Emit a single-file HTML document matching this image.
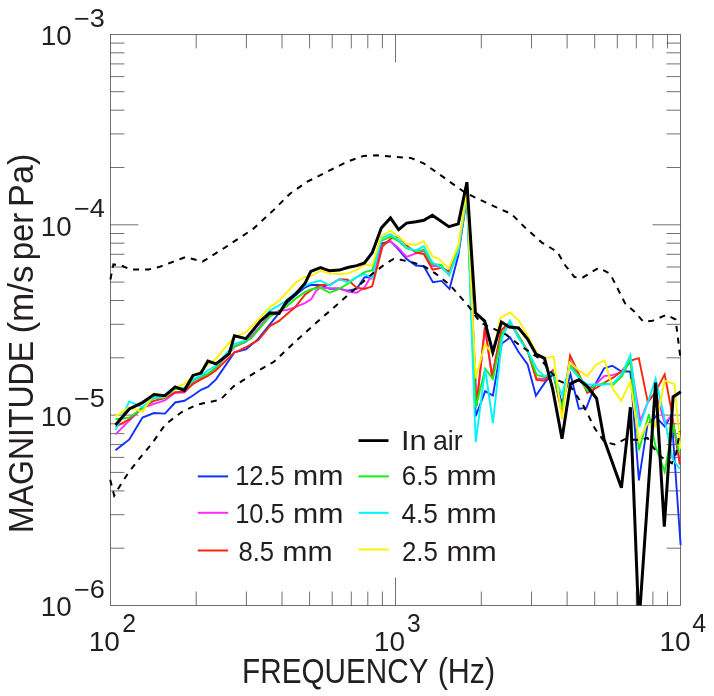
<!DOCTYPE html>
<html><head><meta charset="utf-8"><title>Magnitude vs Frequency</title>
<style>html,body{margin:0;padding:0;background:#fff}svg{display:block}text{font-family:"Liberation Sans",sans-serif;fill:#231f20}</style></head><body>
<svg width="714" height="696" viewBox="0 0 714 696">
<rect width="714" height="696" fill="#fff"/>
<g stroke="#4d4d4d" stroke-width="0.8" fill="none">
<rect x="110.4" y="34.4" width="570.1" height="571.1"/>
<path d="M196.2 34.4v14M196.2 605.5v-14M246.4 34.4v14M246.4 605.5v-14M282.0 34.4v14M282.0 605.5v-14M309.6 34.4v14M309.6 605.5v-14M332.2 34.4v14M332.2 605.5v-14M351.3 34.4v14M351.3 605.5v-14M367.8 34.4v14M367.8 605.5v-14M382.4 34.4v14M382.4 605.5v-14M481.3 34.4v14M481.3 605.5v-14M531.5 34.4v14M531.5 605.5v-14M567.1 34.4v14M567.1 605.5v-14M594.7 34.4v14M594.7 605.5v-14M617.3 34.4v14M617.3 605.5v-14M636.3 34.4v14M636.3 605.5v-14M652.9 34.4v14M652.9 605.5v-14M667.5 34.4v14M667.5 605.5v-14M395.5 34.4v28M395.5 605.5v-28M110.4 548.2h14M680.5 548.2h-14M110.4 514.7h14M680.5 514.7h-14M110.4 490.9h14M680.5 490.9h-14M110.4 472.4h14M680.5 472.4h-14M110.4 457.4h14M680.5 457.4h-14M110.4 444.6h14M680.5 444.6h-14M110.4 433.6h14M680.5 433.6h-14M110.4 423.8h14M680.5 423.8h-14M110.4 357.8h14M680.5 357.8h-14M110.4 324.3h14M680.5 324.3h-14M110.4 300.5h14M680.5 300.5h-14M110.4 282.1h14M680.5 282.1h-14M110.4 267.0h14M680.5 267.0h-14M110.4 254.3h14M680.5 254.3h-14M110.4 243.2h14M680.5 243.2h-14M110.4 233.5h14M680.5 233.5h-14M110.4 167.5h14M680.5 167.5h-14M110.4 133.9h14M680.5 133.9h-14M110.4 110.2h14M680.5 110.2h-14M110.4 91.7h14M680.5 91.7h-14M110.4 76.6h14M680.5 76.6h-14M110.4 63.9h14M680.5 63.9h-14M110.4 52.8h14M680.5 52.8h-14M110.4 43.1h14M680.5 43.1h-14M110.4 415.1h28M680.5 415.1h-28M110.4 224.8h28M680.5 224.8h-28"/>
</g>
<clipPath id="pc"><rect x="108.4" y="34.4" width="574.1" height="571.1"/></clipPath>
<g fill="none" stroke-linejoin="miter" stroke-miterlimit="4" clip-path="url(#pc)">
<polyline points="115.5,450.3 129.3,439.4 142.5,417.6 154.0,413.0 164.9,413.6 175.2,402.5 184.4,400.8 193.0,395.5 201.0,389.8 207.9,386.9 216.0,379.4 234.4,352.4 245.9,349.5 257.2,340.0 269.9,324.4 279.1,312.9 287.1,303.1 295.2,295.6 304.9,287.6 310.8,285.0 320.5,285.0 329.6,288.9 339.3,288.9 347.7,290.8 356.7,288.9 364.5,277.2 372.2,277.2 381.3,243.6 390.5,241.2 398.6,249.7 406.6,259.0 415.9,265.5 423.8,266.2 432.9,282.3 441.6,280.9 449.5,288.8 458.3,255.5 466.9,197.0 475.7,416.2 485.2,391.2 492.9,395.5 501.8,343.5 510.1,337.5 518.6,352.0 527.6,364.5 535.9,395.7 546.2,380.7 553.6,374.2 562.0,403.2 570.5,374.2 578.9,408.8 586.4,407.9 595.7,383.6 604.1,368.2 612.3,365.8 620.7,371.0 630.4,371.7 638.9,480.4 647.5,424.4 655.5,416.7 664.7,426.5 671.5,415.3 680.6,545.0" stroke="#1030ff" stroke-width="1.9"/>
<polyline points="115.5,434.3 129.3,420.5 142.5,407.8 154.0,403.8 164.9,400.3 175.2,392.7 184.4,392.5 193.0,383.0 201.0,378.5 207.9,374.5 216.0,368.0 234.4,347.0 245.9,342.0 257.0,330.0 269.9,314.5 279.1,310.6 287.1,310.0 295.2,307.1 304.9,303.1 311.3,299.1 315.9,291.0 320.5,287.5 329.6,288.2 339.3,288.2 347.7,291.5 356.7,292.8 364.5,287.6 369.7,278.5 372.2,278.5 382.6,244.9 390.5,241.1 398.6,248.3 406.6,256.9 415.9,253.3 423.8,251.1 432.4,266.0 441.0,266.0 448.9,273.0 458.3,251.0 466.9,195.0 471.8,300.0 476.5,405.9 484.9,328.0 492.1,376.6 501.5,330.0 510.0,323.0 518.6,337.0 527.8,352.0 536.5,378.5 544.3,378.9 552.7,371.5 562.0,410.0 569.8,361.0 578.9,376.0 587.3,388.5 595.7,384.5 604.1,376.1 613.5,374.9 620.7,372.3 630.4,360.7 640.3,421.0 647.8,402.1 655.6,392.0 664.7,422.8 669.8,417.6 674.0,428.0 680.0,462.0" stroke="#ff2cff" stroke-width="1.9"/>
<polyline points="115.5,426.8 129.3,419.3 142.5,407.2 154.0,400.9 164.9,398.0 175.2,392.2 184.4,391.6 193.0,384.0 201.0,379.4 207.9,376.0 216.0,370.2 234.4,352.4 239.0,350.7 245.9,347.2 258.4,340.0 269.9,326.1 279.1,320.9 287.1,314.0 295.2,307.1 304.9,294.8 310.8,290.5 320.5,285.0 329.6,285.0 339.3,279.2 347.7,279.8 356.7,287.6 364.5,288.9 372.2,286.3 382.6,246.2 390.5,238.8 398.6,236.8 406.6,245.4 415.9,252.6 423.8,254.0 432.6,269.6 441.3,267.8 448.9,271.3 458.3,250.0 466.9,194.0 471.8,300.0 476.5,405.9 484.9,326.8 492.1,376.6 501.5,330.0 510.0,322.0 518.6,336.0 527.8,351.0 536.5,379.9 544.5,380.8 552.7,370.5 562.0,413.5 570.1,355.5 578.9,374.2 587.3,392.9 595.7,388.2 604.5,382.5 613.2,377.7 622.0,371.0 632.3,360.0 638.8,358.1 647.8,402.1 655.6,391.7 664.7,374.3 671.1,408.5 679.8,464.6" stroke="#ff2408" stroke-width="1.9"/>
<polyline points="115.5,419.3 129.3,417.6 142.5,408.4 154.0,398.0 164.9,397.5 175.2,388.8 184.4,389.8 193.0,380.6 201.0,376.6 207.9,373.7 216.0,367.4 234.4,346.1 245.9,341.5 251.5,338.0 269.9,316.3 279.1,311.7 287.1,306.0 295.2,299.1 304.9,292.2 310.8,289.5 320.5,287.6 329.6,292.8 339.3,288.9 347.7,283.7 356.7,277.2 364.5,272.1 372.2,270.1 381.3,241.0 390.5,236.6 398.6,241.1 406.6,248.3 415.9,251.1 423.8,249.7 432.4,264.1 441.0,264.8 449.2,275.3 458.3,249.7 466.9,195.1 471.0,300.0 475.7,407.6 485.2,368.8 492.9,379.1 502.0,333.8 510.0,322.8 518.6,336.0 527.8,352.0 536.8,375.0 544.5,377.0 552.7,372.3 562.0,407.9 569.5,364.9 578.9,376.1 587.3,391.0 595.7,385.4 604.6,383.2 612.9,385.0 622.0,376.2 630.4,359.4 638.9,450.2 648.9,414.3 655.4,445.9 664.7,471.8 673.3,424.4 679.1,453.1" stroke="#12f012" stroke-width="1.9"/>
<polyline points="115.5,430.2 129.3,401.5 142.5,407.2 154.0,397.5 164.9,397.0 175.2,388.0 184.4,388.0 193.0,379.4 201.0,375.4 207.9,370.2 216.0,365.6 234.4,343.8 245.9,340.3 257.0,326.0 269.9,310.6 279.1,305.4 287.1,300.2 295.2,293.0 304.9,286.0 310.8,283.2 320.5,280.5 329.6,285.6 339.3,279.2 347.7,282.4 356.7,277.2 364.5,274.0 372.2,277.9 381.3,238.4 390.5,234.2 398.6,239.7 406.6,247.6 415.9,250.4 423.8,246.1 432.4,262.6 441.0,267.0 449.2,274.7 458.3,251.1 466.9,193.7 470.5,300.0 475.7,442.1 485.2,368.8 492.9,423.1 502.2,337.5 510.0,320.5 518.6,338.3 527.8,350.9 536.8,368.6 544.3,376.1 552.7,373.3 562.0,394.8 569.5,366.7 578.9,377.9 587.3,384.5 595.7,384.5 604.6,384.6 612.9,383.3 622.0,373.6 630.4,354.9 639.5,427.0 647.6,403.0 655.6,378.8 664.0,416.0 672.6,458.9 679.8,468.9" stroke="#00f4ff" stroke-width="1.9"/>
<polyline points="115.5,416.4 129.3,407.2 142.5,411.8 154.0,393.4 164.9,396.9 175.2,387.5 184.4,384.0 193.0,376.0 201.0,371.4 207.9,364.5 216.0,358.7 229.2,342.6 234.4,336.9 245.9,332.3 249.2,329.0 269.9,307.1 279.1,300.8 287.1,292.2 295.2,283.0 304.9,277.0 310.8,276.0 320.5,270.8 329.6,273.4 339.3,274.0 347.7,273.4 356.7,270.1 364.5,264.3 372.2,265.6 381.3,235.9 390.5,230.8 398.6,236.8 406.6,244.0 415.9,244.7 423.8,241.1 432.4,256.2 438.9,259.0 448.9,268.4 458.3,245.4 466.9,190.8 471.8,300.0 475.7,378.3 485.0,344.3 492.9,354.0 500.3,317.8 509.9,312.4 518.8,320.5 527.8,336.0 536.8,353.6 546.2,358.3 553.6,356.4 562.0,419.1 569.5,362.1 578.9,370.5 587.3,376.1 595.7,364.9 604.6,360.4 612.9,389.1 621.3,400.8 630.4,381.4 638.9,440.2 647.6,423.2 655.4,426.5 664.7,380.7 674.4,384.0 680.5,448.8" stroke="#fff200" stroke-width="1.9"/>
<polyline points="110.4,279.5 113.4,264.4 120.1,265.0 130.2,269.4 148.7,269.4 158.8,267.1 185.7,257.0 202.5,261.7 226.0,246.9 252.9,229.1 273.1,210.6 289.9,193.8 306.7,182.0 326.8,171.9 346.8,161.9 363.6,155.9 377.1,155.2 393.9,156.9 410.7,157.9 424.1,163.6 440.9,175.4 464.5,192.2 477.9,198.9 494.7,206.6 511.5,214.0 525.0,227.5 541.8,242.6 557.2,251.7 565.3,265.5 574.5,277.0 582.5,277.7 598.6,267.8 610.1,273.6 618.2,289.7 625.1,303.4 634.3,311.5 643.4,321.8 652.6,320.7 666.4,314.9 675.6,319.5 680.2,356.3" stroke="#000" stroke-width="2" stroke-dasharray="6 6"/>
<polyline points="110.2,479.7 114.2,495.7 118.8,487.7 128.0,473.3 139.5,458.4 152.1,443.4 165.3,424.4 181.4,412.3 195.5,405.3 203.4,403.2 220.2,399.9 233.6,386.4 256.0,371.9 273.9,361.8 294.1,342.7 316.5,322.6 334.5,306.9 352.4,291.2 369.7,276.0 385.0,264.1 393.6,259.0 400.8,259.8 413.7,262.6 425.2,267.0 435.3,273.4 450.2,285.2 468.9,306.7 480.3,322.5 506.2,334.7 520.0,345.5 540.6,359.3 557.4,379.8 570.5,386.4 583.6,406.0 594.8,428.4 604.1,441.5 614.4,444.5 625.9,438.7 638.9,440.2 647.5,438.0 653.2,447.4 661.8,457.4 671.9,463.2 676.2,453.1 679.8,431.6" stroke="#000" stroke-width="2" stroke-dasharray="6 6"/>
<polyline points="115.5,425.1 129.3,409.0 142.5,402.6 154.0,394.6 164.9,395.7 175.2,386.9 184.4,390.3 193.0,375.4 201.0,373.1 207.9,361.0 216.0,363.9 229.2,353.6 234.4,335.7 245.9,338.6 260.7,320.9 269.9,312.9 279.1,313.4 287.1,300.8 295.2,294.5 304.9,283.6 310.8,271.4 320.5,267.5 329.6,270.8 339.3,270.1 347.7,267.5 356.7,265.6 364.5,263.0 372.2,252.7 381.3,228.1 390.5,217.9 398.6,229.6 406.6,223.1 415.9,221.7 423.8,220.3 432.4,215.2 448.9,226.7 458.3,223.9 466.9,182.2 475.4,312.8 484.7,321.0 492.8,352.2 501.4,322.0 509.3,327.0 518.6,328.0 527.8,339.4 536.0,354.0 544.5,358.4 552.7,389.2 562.0,438.7 570.5,383.6 578.9,379.8 587.3,386.4 596.6,398.5 604.1,439.5 621.4,487.8 630.4,407.2 638.9,625.0 655.6,382.7 664.3,526.7 673.1,396.9 680.8,391.7" stroke="#000" stroke-width="3"/>
</g>
<g fill="none" stroke-width="2">
<path d="M197.8 476.4h30.3" stroke="#1030ff"/>
<path d="M197.8 512.8h30.3" stroke="#ff2cff"/>
<path d="M197.8 550.5h30.3" stroke="#ff2408"/>
<path d="M358.5 476.4h30.3" stroke="#12f012"/>
<path d="M358.5 512.8h30.3" stroke="#00f4ff"/>
<path d="M358.5 549.5h30.3" stroke="#fff200"/>
<path d="M358.5 440.6h30" stroke="#000" stroke-width="2.8"/>
</g>
<text x="401.0" y="449.5" font-size="27.6" textLength="25.7" lengthAdjust="spacingAndGlyphs">In</text>
<text x="433.0" y="449.5" font-size="27.6" textLength="29.7" lengthAdjust="spacingAndGlyphs">air</text>
<text x="235.2" y="484.5" font-size="27.6" textLength="49.6" lengthAdjust="spacingAndGlyphs">12.5</text>
<text x="293.1" y="484.5" font-size="27.6" textLength="50.4" lengthAdjust="spacingAndGlyphs">mm</text>
<text x="235.2" y="522.6" font-size="27.6" textLength="49.6" lengthAdjust="spacingAndGlyphs">10.5</text>
<text x="293.1" y="522.6" font-size="27.6" textLength="50.4" lengthAdjust="spacingAndGlyphs">mm</text>
<text x="238.4" y="560.6" font-size="27.6" textLength="35.7" lengthAdjust="spacingAndGlyphs">8.5</text>
<text x="282.3" y="560.6" font-size="27.6" textLength="50.4" lengthAdjust="spacingAndGlyphs">mm</text>
<text x="401.8" y="484.6" font-size="27.6" textLength="36.1" lengthAdjust="spacingAndGlyphs">6.5</text>
<text x="446.4" y="484.6" font-size="27.6" textLength="50.4" lengthAdjust="spacingAndGlyphs">mm</text>
<text x="401.5" y="522.6" font-size="27.6" textLength="36.4" lengthAdjust="spacingAndGlyphs">4.5</text>
<text x="446.4" y="522.6" font-size="27.6" textLength="50.4" lengthAdjust="spacingAndGlyphs">mm</text>
<text x="402.0" y="560.7" font-size="27.6" textLength="35.9" lengthAdjust="spacingAndGlyphs">2.5</text>
<text x="446.4" y="560.7" font-size="27.6" textLength="50.4" lengthAdjust="spacingAndGlyphs">mm</text>
<text x="40.7" y="45.2" font-size="27.6" textLength="30.9" lengthAdjust="spacingAndGlyphs">10</text>
<text x="73.9" y="26.7" font-size="25" textLength="30.9" lengthAdjust="spacingAndGlyphs">−3</text>
<text x="40.7" y="235.6" font-size="27.6" textLength="30.9" lengthAdjust="spacingAndGlyphs">10</text>
<text x="73.9" y="217.1" font-size="25" textLength="30.9" lengthAdjust="spacingAndGlyphs">−4</text>
<text x="40.7" y="425.9" font-size="27.6" textLength="30.9" lengthAdjust="spacingAndGlyphs">10</text>
<text x="73.9" y="407.4" font-size="25" textLength="30.9" lengthAdjust="spacingAndGlyphs">−5</text>
<text x="40.7" y="616.3" font-size="27.6" textLength="30.9" lengthAdjust="spacingAndGlyphs">10</text>
<text x="73.9" y="597.8" font-size="25" textLength="30.9" lengthAdjust="spacingAndGlyphs">−6</text>
<text x="88.7" y="650.8" font-size="27.6" textLength="31.2" lengthAdjust="spacingAndGlyphs">10</text>
<text x="122.2" y="631.9" font-size="25" textLength="13.8" lengthAdjust="spacingAndGlyphs">2</text>
<text x="373.8" y="650.8" font-size="27.6" textLength="31.2" lengthAdjust="spacingAndGlyphs">10</text>
<text x="407.1" y="631.9" font-size="25" textLength="13.7" lengthAdjust="spacingAndGlyphs">3</text>
<text x="659.4" y="650.8" font-size="27.6" textLength="31.2" lengthAdjust="spacingAndGlyphs">10</text>
<text x="692.3" y="631.9" font-size="25" textLength="13.9" lengthAdjust="spacingAndGlyphs">4</text>
<text x="242.1" y="683.0" font-size="35.3" textLength="186.5" lengthAdjust="spacingAndGlyphs">FREQUENCY</text>
<text x="437.7" y="683.0" font-size="35.3" textLength="57.6" lengthAdjust="spacingAndGlyphs">(Hz)</text>
<text transform="translate(33.4 531.0) rotate(-90)" x="-1.9" y="0" font-size="35.3" textLength="191.9" lengthAdjust="spacingAndGlyphs">MAGNITUDE</text>
<text transform="translate(33.4 331.5) rotate(-90)" x="-2.1" y="0" font-size="35.3" textLength="68.2" lengthAdjust="spacingAndGlyphs">(m/s</text>
<text transform="translate(33.4 258.3) rotate(-90)" x="-2.0" y="0" font-size="35.3" textLength="47.6" lengthAdjust="spacingAndGlyphs">per</text>
<text transform="translate(33.4 204.9) rotate(-90)" x="-2.1" y="0" font-size="35.3" textLength="53.4" lengthAdjust="spacingAndGlyphs">Pa)</text>
</svg></body></html>
